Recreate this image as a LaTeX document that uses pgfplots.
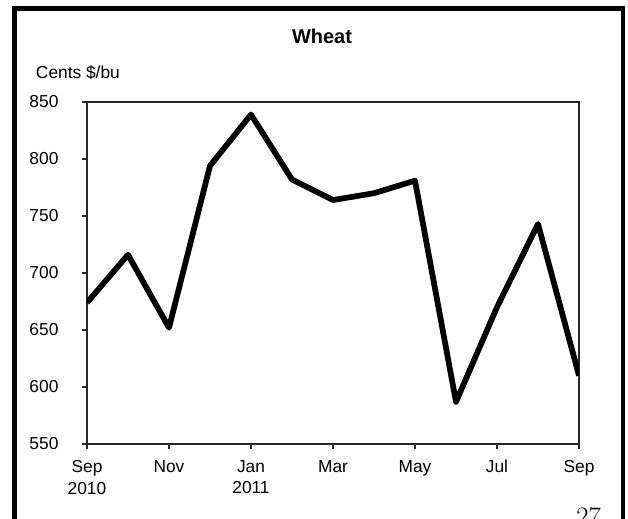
\documentclass[border=0pt]{standalone}
\usepackage{fontspec}
\setmainfont{Liberation Sans}
\newfontfamily\pagenumfont{Latin Modern Roman}
\usepackage{pgfplots}
\pgfplotsset{compat=1.18}

\newcommand\ticklabelfont{\fontsize{13}{16.3}\selectfont}
% y tick label set flush right, 17pt clear of the tick
\newcommand\ylab[1]{\makebox[0pt][r]{\ticklabelfont #1\hspace{17pt}}}

\begin{document}
\begin{tikzpicture}
% page area
\useasboundingbox (0,0) rectangle (471pt,388.5pt);
\clip (0,0) rectangle (471pt,388.5pt);

% outer frame (runs on past the lower edge)
\draw[black, line width=3.45pt] (10.7pt,-30pt) -- (10.7pt,382.3pt) -- (467.25pt,382.3pt) -- (467.25pt,-30pt);

\begin{axis}[
  at={(65.25pt,55.5pt)}, anchor=south west,
  scale only axis,
  width=369pt, height=256.5pt,
  xmin=0, xmax=12,
  ymin=550, ymax=850,
  xtick={0,2,4,6,8,10,12},
  xticklabels={Sep\\2010, Nov, Jan\\2011, Mar, May, Jul, Sep},
  ytick={550,600,650,700,750,800,850},
  yticklabels={\ylab{550},\ylab{600},\ylab{650},\ylab{700},\ylab{750},\ylab{800},\ylab{850}},
  xtick pos=bottom, ytick pos=left,
  tick align=outside,
  major tick length=3.75pt,
  axis line style={black!85, line width=0.8pt},
  tick style={black!85, line width=0.8pt},
  xticklabel style={font=\ticklabelfont, align=center, inner sep=0pt, anchor=north, yshift=-8.25pt},
  yticklabel style={inner sep=0pt, anchor=east},
]
\addplot[black, line width=4.3pt, line join=round] coordinates {
  (0,674) (1,716) (2,652) (3,794) (4,839) (5,782) (6,764)
  (7,770) (8,781) (9,587) (10,670) (11,743) (12,610)
};
\end{axis}

% title and unit label
\node[anchor=base, inner sep=0pt, font=\fontsize{15}{18}\selectfont\bfseries] at (241.5pt,355.5pt) {Wheat};
\node[anchor=base west, inner sep=0pt, font=\fontsize{13}{15.6}\selectfont] at (26.8pt,329.5pt) {Cents \$/bu};

% page number
\node[anchor=base west, inner sep=0pt, font=\pagenumfont\fontsize{20}{24}\selectfont] at (432pt,-5.4pt) {27};
\end{tikzpicture}
\end{document}
